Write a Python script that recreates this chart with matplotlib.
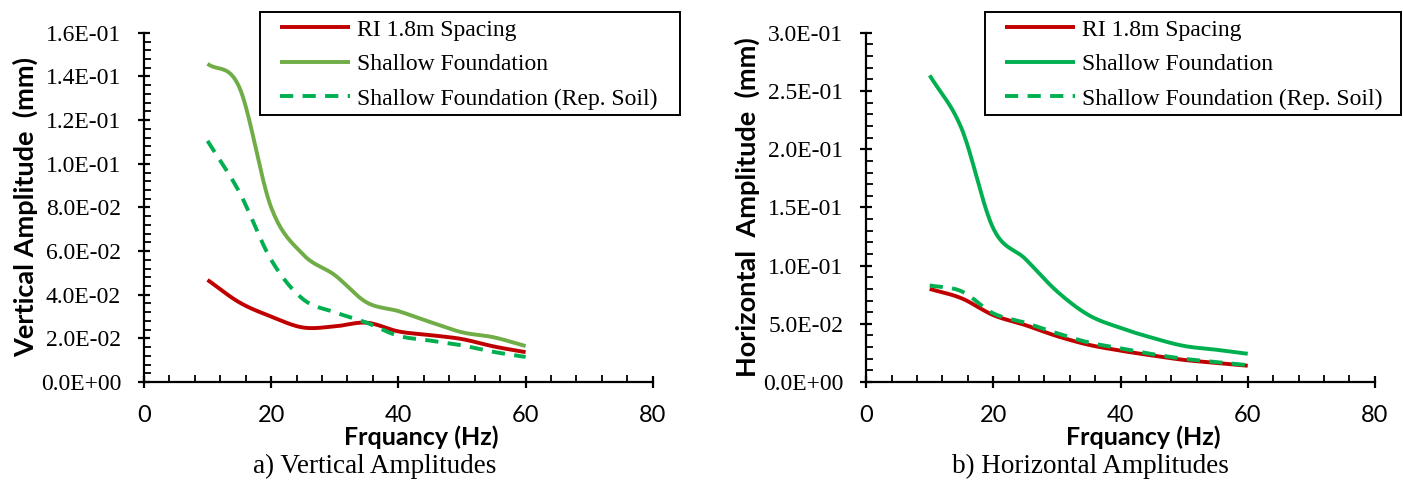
import numpy as np
import matplotlib.pyplot as plt
from matplotlib.patches import Rectangle
from matplotlib.ticker import MultipleLocator, FuncFormatter

# Frequências (Hz)
freq = [10, 15, 20, 25, 30, 35, 40, 45, 50, 55, 60]

# a) Amplitudes verticais (mm)
vert_ri = [0.0468, 0.0365, 0.0300, 0.0250, 0.0255, 0.0272, 0.0232, 0.0215, 0.0197, 0.0163, 0.0137]
vert_shallow = [0.1458, 0.1350, 0.0800, 0.0585, 0.0490, 0.0365, 0.0325, 0.0275, 0.0228, 0.0205, 0.0165]
vert_rep = [0.1105, 0.0870, 0.0560, 0.0380, 0.0320, 0.0272, 0.0212, 0.0190, 0.0168, 0.0138, 0.0115]

# b) Amplitudes horizontais (mm)
hor_ri = [0.0800, 0.0720, 0.0575, 0.0490, 0.0395, 0.0320, 0.0270, 0.0228, 0.0190, 0.0165, 0.0140]
hor_shallow = [0.2635, 0.2180, 0.1320, 0.1060, 0.0780, 0.0575, 0.0465, 0.0380, 0.0310, 0.0278, 0.0243]
hor_rep = [0.0830, 0.0780, 0.0590, 0.0510, 0.0420, 0.0340, 0.0290, 0.0240, 0.0200, 0.0172, 0.0145]

labels = ['RI 1.8m Spacing', 'Shallow Foundation', 'Shallow Foundation (Rep. Soil)']

RED = '#C00000'
OLIVE = '#70AD47'
GREEN = '#00B050'


# Linha suavizada (tipo "smoothed line" do Excel)
def smooth(x, y, n=20):
    x = np.asarray(x, float)
    y = np.asarray(y, float)
    px = np.concatenate([[2 * x[0] - x[1]], x, [2 * x[-1] - x[-2]]])
    py = np.concatenate([[2 * y[0] - y[1]], y, [2 * y[-1] - y[-2]]])
    xs, ys = [], []
    t = np.linspace(0, 1, n, endpoint=False)
    for i in range(1, len(px) - 2):
        for arr, out in ((px, xs), (py, ys)):
            p0, p1, p2, p3 = arr[i - 1], arr[i], arr[i + 1], arr[i + 2]
            out.extend(0.5 * ((2 * p1) + (-p0 + p2) * t
                              + (2 * p0 - 5 * p1 + 4 * p2 - p3) * t ** 2
                              + (-p0 + 3 * p1 - 3 * p2 + p3) * t ** 3))
    xs.append(x[-1])
    ys.append(y[-1])
    return np.array(xs), np.array(ys)


def sci(v, pos):
    return '%.1E' % v


W, H = 1403, 483
fig = plt.figure(figsize=(W / 100, H / 100), dpi=100)

serif = 'Liberation Serif'
sans = 'Lato'

# (left, series..., legend box in px: x0, x1)
panels = [
    (0.1026, vert_ri, vert_shallow, vert_rep, OLIVE, 0.16, 0.02, 0.004,
     'Vertical Amplitude  (mm)', (260, 680), 0.267, 'a) Vertical Amplitudes'),
    (0.6173, hor_ri, hor_shallow, hor_rep, GREEN, 0.30, 0.05, 0.01,
     'Horizontal  Amplitude  (mm)', (985, 1401), 0.777, 'b) Horizontal Amplitudes'),
]

for (left, ri, sh, rep, shc, ymax, ymaj, ymin, ylab, lbox, capx, cap) in panels:
    ax = fig.add_axes([left, 0.209, 0.3627, 0.723])
    l1, = ax.plot(*smooth(freq, ri), color=RED, lw=2.8, solid_capstyle='butt')
    l2, = ax.plot(*smooth(freq, sh), color=shc, lw=2.8, solid_capstyle='butt')
    l3, = ax.plot(*smooth(freq, rep), color=GREEN, lw=2.8, ls=(0, (3.4, 2.4)))

    ax.set_xlim(0, 80)
    ax.set_ylim(0, ymax)
    ax.xaxis.set_major_locator(MultipleLocator(20))
    ax.xaxis.set_minor_locator(MultipleLocator(4))
    ax.yaxis.set_major_locator(MultipleLocator(ymaj))
    ax.yaxis.set_minor_locator(MultipleLocator(ymin))
    ax.yaxis.set_major_formatter(FuncFormatter(sci))

    for s in ['top', 'right']:
        ax.spines[s].set_visible(False)
    for s in ['left', 'bottom']:
        ax.spines[s].set_linewidth(1.6)
    ax.tick_params(which='major', direction='inout', length=9, width=1.6)
    ax.tick_params(which='minor', direction='in', length=5, width=1.3)
    ax.tick_params(axis='y', which='major', pad=12)
    ax.tick_params(axis='x', which='major', pad=12)
    for t in ax.get_yticklabels():
        t.set_fontfamily(serif)
        t.set_fontsize(17)
    for t in ax.get_xticklabels():
        t.set_fontfamily(sans)
        t.set_fontsize(17)

    ax.set_ylabel(ylab, fontfamily=sans, fontsize=19.5, fontweight='bold', labelpad=2)
    ax.set_xlabel('Frquancy (Hz)', fontfamily=sans, fontsize=18, fontweight='bold')
    ax.xaxis.set_label_coords(0.545, -0.123)

    # legenda sem moldura + moldura desenhada à parte
    leg = fig.legend([l1, l2, l3], labels, loc='upper left',
                     bbox_to_anchor=((lbox[0] + 20) / W, 1 - 19 / H),
                     prop={'family': serif, 'size': 17}, handlelength=2.95,
                     labelspacing=0.55, borderpad=0, borderaxespad=0,
                     handletextpad=0.3, frameon=False)
    fig.patches.append(Rectangle((lbox[0] / W, 1 - 115 / H), (lbox[1] - lbox[0]) / W,
                                 103 / H, transform=fig.transFigure, fill=False,
                                 edgecolor='black', lw=1.4))

    fig.text(capx, 0.035, cap, ha='center', va='center', fontfamily=serif, fontsize=19.5)

plt.savefig('out.png', dpi=100)
